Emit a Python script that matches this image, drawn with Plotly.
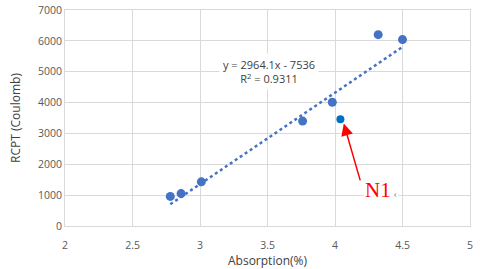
import plotly.graph_objects as go
import numpy as np

absorption = [2.78, 2.86, 3.01, 3.76, 3.98, 4.32, 4.50]
rcpt = [960, 1050, 1430, 3400, 4010, 6200, 6040]
n1_x = [4.04]
n1_y = [3460]
slope = 2964.1
intercept = -7536
r2 = 0.9311

tx = np.linspace(min(absorption), max(absorption), 2)
ty = slope * tx + intercept

fig = go.Figure()
fig.add_trace(go.Scatter(x=tx, y=ty, mode="lines",
                         line=dict(color="#4472C4", width=2.5, dash="dot"),
                         showlegend=False, hoverinfo="skip"))
fig.add_trace(go.Scatter(x=absorption, y=rcpt, mode="markers",
                         marker=dict(color="#4472C4", size=9), showlegend=False))
fig.add_trace(go.Scatter(x=n1_x, y=n1_y, mode="markers",
                         marker=dict(color="#0070C0", size=8), showlegend=False))

fig.add_annotation(x=3.51, y=5000, xref="x", yref="y",
                   text=f"y = {slope}x - {abs(intercept)}<br>R<sup>2</sup> = {r2}",
                   showarrow=False, align="center", bgcolor="white",
                   font=dict(family="Open Sans, sans-serif", size=11, color="#404040"),
                   borderpad=3)
fig.add_annotation(x=4.065, y=3320, xref="x", yref="y",
                   ax=4.19, ay=1430, axref="x", ayref="y",
                   showarrow=True, arrowhead=2, arrowsize=1.6, arrowwidth=1.5,
                   arrowcolor="#FF0000", text="")
fig.add_annotation(x=4.34, y=1160, xref="x", yref="y",
                   text="N1<span style='color:#8c8c8c;font-size:11px'> ‹</span>",
                   showarrow=False, bgcolor="white", borderpad=1,
                   font=dict(family="Liberation Serif, serif", size=21, color="#FF0000"))

axis_common = dict(showgrid=True, gridcolor="#d9d9d9", gridwidth=1,
                   zeroline=False, showline=True, linecolor="#d9d9d9",
                   tickfont=dict(family="Open Sans, sans-serif", size=10.5, color="#595959"),
                   automargin=False)
fig.update_xaxes(range=[2, 5], dtick=0.5, mirror=True,
                 ticks="outside", ticklen=9, tickcolor="rgba(0,0,0,0)",
                 title=dict(text="Absorption(%)", font=dict(family="Open Sans, sans-serif", size=12, color="#404040"), standoff=3),
                 **axis_common)
fig.update_yaxes(range=[0, 7000], dtick=1000, mirror=True,
                 ticks="",
                 title=dict(text="RCPT (Coulomb)", font=dict(family="Open Sans, sans-serif", size=12, color="#404040"), standoff=14),
                 **axis_common)
fig.update_layout(width=480, height=269, margin=dict(l=65, r=10, t=10, b=43),
                  plot_bgcolor="white", paper_bgcolor="white")
fig.write_html("out.html", post_script="document.body.style.margin='0';",
               config={"displayModeBar": False})
